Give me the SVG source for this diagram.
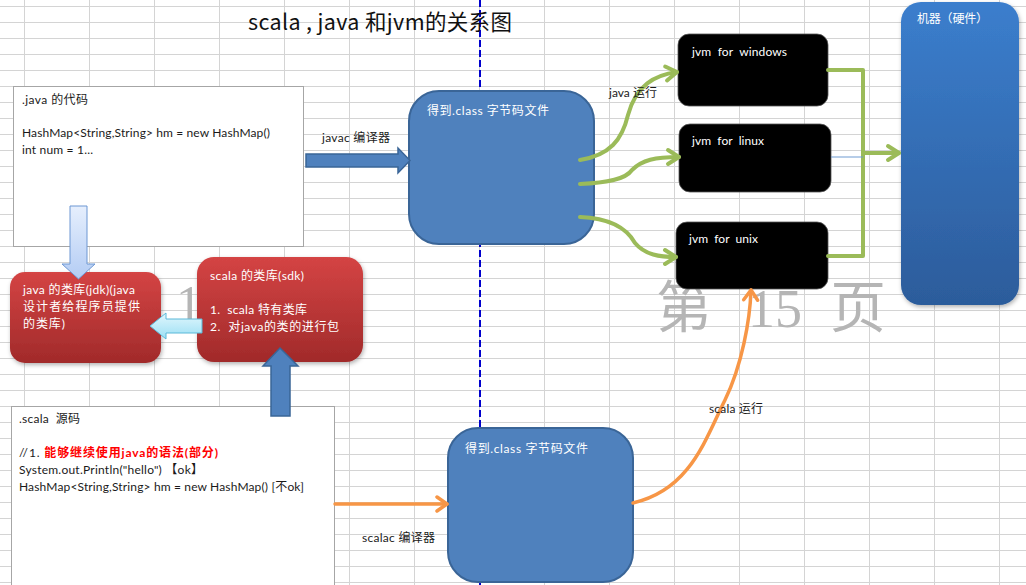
<svg xmlns="http://www.w3.org/2000/svg" width="1026" height="585" viewBox="0 0 1026 585">
<style>
.t{font-family:Lato,"Liberation Sans","Noto Sans CJK SC",sans-serif;font-size:12px;fill:#1a1a1a;white-space:pre}
.w{fill:#ffffff}
.wm{font-family:"Liberation Serif","Noto Sans CJK SC",serif;fill:#b5b5b5}
.g{fill:none;stroke:#9bbb59;stroke-width:4;stroke-linecap:round;stroke-linejoin:round}
.o{fill:none;stroke:#f79646;stroke-width:3.5;stroke-linecap:round}
.cls{fill:#4f81bd;stroke:#3a6597;stroke-width:2}
.jvm{fill:#000000;stroke:#555555;stroke-width:0.8}
.code{fill:#ffffff;stroke:#a6a6a6;stroke-width:1}
</style>
<defs>
<linearGradient id="red" x1="0" y1="0" x2="0" y2="1"><stop offset="0" stop-color="#d44444"/><stop offset="1" stop-color="#a12a2a"/></linearGradient>
<linearGradient id="mach" x1="0" y1="0" x2="0" y2="1"><stop offset="0" stop-color="#3b7ecd"/><stop offset="1" stop-color="#2c5c9b"/></linearGradient>
<linearGradient id="lb" x1="0" y1="0" x2="0" y2="1"><stop offset="0" stop-color="#e6effd"/><stop offset="1" stop-color="#b3ccf4"/></linearGradient>
<linearGradient id="cy" x1="0" y1="0" x2="0" y2="1"><stop offset="0" stop-color="#e2f7fd"/><stop offset="1" stop-color="#9bdff4"/></linearGradient>
<filter id="sh" x="-10%" y="-10%" width="130%" height="130%"><feDropShadow dx="1" dy="2" stdDeviation="2" flood-color="#000" flood-opacity="0.3"/></filter>
<marker id="ga" markerUnits="userSpaceOnUse" markerWidth="20" markerHeight="20" refX="15" refY="10" orient="auto" overflow="visible"><path d="M4,3 L15,10 L4,17" fill="none" stroke="#9bbb59" stroke-width="4" stroke-linecap="round" stroke-linejoin="round"/></marker>
<marker id="oa" markerUnits="userSpaceOnUse" markerWidth="20" markerHeight="20" refX="15" refY="10" orient="auto" overflow="visible"><path d="M5,3 L15,10 L5,17" fill="none" stroke="#f79646" stroke-width="3.5" stroke-linecap="round" stroke-linejoin="round"/></marker>
</defs>
<rect width="1026" height="585" fill="#ffffff"/>
<g id="grid" stroke="#d4d4d4" stroke-width="1" fill="none">
<path d="M24.5,0V585M89.5,0V585M154.5,0V585M219.5,0V585M284.5,0V585M349.5,0V585M414.5,0V585M479.5,0V585M544.5,0V585M609.5,0V585M674.5,0V585M739.5,0V585M804.5,0V585M869.5,0V585M934.5,0V585M999.5,0V585"/>
<path d="M0,6.5H1026M0,22.5H1026M0,38.5H1026M0,54.5H1026M0,70.5H1026M0,86.5H1026M0,102.5H1026M0,118.5H1026M0,134.5H1026M0,150.5H1026M0,166.5H1026M0,182.5H1026M0,198.5H1026M0,214.5H1026M0,230.5H1026M0,246.5H1026M0,262.5H1026M0,278.5H1026M0,294.5H1026M0,310.5H1026M0,326.5H1026M0,342.5H1026M0,358.5H1026M0,374.5H1026M0,390.5H1026M0,406.5H1026M0,422.5H1026M0,438.5H1026M0,454.5H1026M0,470.5H1026M0,486.5H1026M0,502.5H1026M0,518.5H1026M0,534.5H1026M0,550.5H1026M0,566.5H1026M0,582.5H1026"/>
</g>
<g id="watermark">
<text class="wm" x="176" y="322" font-size="52">1</text>
<text class="wm" y="327" font-size="54"><tspan x="656" font-size="56">第</tspan><tspan x="748">15</tspan><tspan x="830" font-size="56">页</tspan></text>
</g>
<line id="divider" x1="480" y1="0" x2="480" y2="585" stroke="#0000cc" stroke-width="2" stroke-dasharray="7,3"/>
<text id="title" x="248" y="30" font-family="'Noto Sans CJK SC','Liberation Sans',sans-serif" font-size="21.5" fill="#111" textLength="264">scala , java 和jvm的关系图</text>
<g id="java-code">
<rect class="code" x="13.5" y="86.5" width="290" height="160"/>
<text class="t" x="22" y="104" textLength="66">.java 的代码</text>
<text class="t" x="22" y="137" textLength="248">HashMap&lt;String,String&gt; hm = new HashMap()</text>
<text class="t" x="22" y="154" textLength="71">int num = 1...</text>
</g>
<g id="jdk">
<rect x="10" y="272" width="151" height="91" rx="15" fill="url(#red)" filter="url(#sh)"/>
<text class="t w" x="23" y="294" textLength="112">java 的类库(jdk)(java</text>
<text class="t w" x="23" y="311" textLength="117">设计者给程序员提供</text>
<text class="t w" x="23" y="328" textLength="42">的类库)</text>
</g>
<g id="sdk">
<rect x="197" y="257" width="166" height="105" rx="17" fill="url(#red)" filter="url(#sh)"/>
<text class="t w" x="210" y="280" textLength="94">scala 的类库(sdk)</text>
<text class="t w" x="210" y="314" textLength="97">1.  scala 特有类库</text>
<text class="t w" x="210" y="331" textLength="129">2.  对java的类的进行包</text>
</g>
<g id="scala-code">
<rect class="code" x="11.5" y="406.5" width="323" height="185"/>
<text class="t" x="19" y="423" textLength="61">.scala  源码</text>
<text class="t" x="19" y="457" textLength="199">//1. <tspan fill="#ff0000" font-weight="bold">能够继续使用java的语法(部分)</tspan></text>
<text class="t" x="19" y="474" textLength="184">System.out.Println("hello") 【ok】</text>
<text class="t" x="19" y="491" textLength="285">HashMap&lt;String,String&gt; hm = new HashMap() [不ok]</text>
</g>
<g id="class-top">
<rect class="cls" x="409" y="91" width="185" height="153" rx="30"/>
<text class="t w" x="427" y="115" font-size="13" textLength="122">得到.class 字节码文件</text>
</g>
<g id="class-bottom">
<rect class="cls" x="448" y="428" width="185" height="154" rx="30"/>
<text class="t w" x="465" y="453" font-size="13" textLength="123">得到.class 字节码文件</text>
</g>
<g id="jvm-windows">
<rect class="jvm" x="678" y="34" width="150" height="72" rx="11"/>
<text class="t w" x="692" y="56" textLength="95">jvm  for  windows</text>
</g>
<g id="jvm-linux">
<rect class="jvm" x="679" y="124" width="152" height="68" rx="11"/>
<text class="t w" x="692" y="145" textLength="72">jvm  for  linux</text>
</g>
<g id="jvm-unix">
<rect class="jvm" x="676" y="222" width="152" height="67" rx="11"/>
<text class="t w" x="689" y="243" textLength="69">jvm  for  unix</text>
</g>
<g id="machine">
<rect x="901" y="2" width="118" height="303" rx="20" fill="url(#mach)" filter="url(#sh)"/>
<text class="t w" x="917" y="23" textLength="71">机器（硬件）</text>
</g>
<g id="connectors">
<polygon points="70,206 87,206 87,264 95,264 78.5,279 62,264 70,264" fill="url(#lb)" stroke="#6d97d3" stroke-width="1"/>
<polygon points="150,326 166,313 166,319 202,319 202,333 166,333 166,339" fill="url(#cy)" stroke="#5bb8d8" stroke-width="1"/>
<polygon points="280,348 298,366 290,366 290,416 271,416 271,366 263,366" fill="#4f81bd" stroke="#3a6597" stroke-width="1.5"/>
<polygon points="306,154 398,154 398,148 410,160.5 398,173 398,167 306,167" fill="#4f81bd" stroke="#3a6597" stroke-width="1.5"/>
<path class="g" d="M580,160 C610,155 622,140 628,115 C636,85 655,75 677,72" marker-end="url(#ga)"/>
<path class="g" d="M580,184 C605,183 625,180 632,170 C642,160 655,157 679,157" marker-end="url(#ga)"/>
<path class="g" d="M580,217 C605,218 625,225 635,243 C645,255 660,257 676,257" marker-end="url(#ga)"/>
<polyline class="g" points="828,70 863,70 863,256 828,256"/>
<path class="g" d="M863,153 H899" marker-end="url(#ga)"/>
<line x1="831" y1="157" x2="863" y2="157" stroke="#6f9bd1" stroke-width="1"/>
<path class="o" d="M335,504 H447" marker-end="url(#oa)"/>
<path class="o" d="M633,503 C690,490 705,440 725,400 C742,365 750,320 751,290" marker-end="url(#oa)"/>
<text class="t" x="322" y="142" textLength="68">javac 编译器</text>
<text class="t" x="609" y="97" textLength="48">java 运行</text>
<text class="t" x="709" y="413" textLength="54">scala 运行</text>
<text class="t" x="362" y="542" textLength="73">scalac 编译器</text>
</g>
</svg>
